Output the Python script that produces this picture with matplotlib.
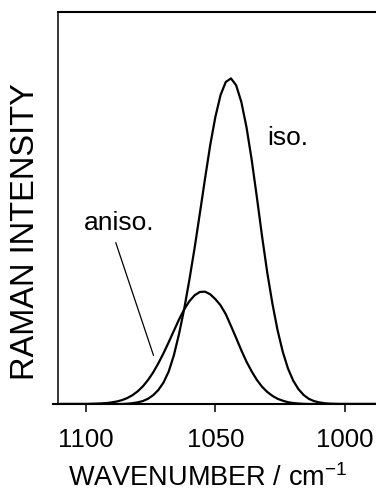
import matplotlib
matplotlib.use("Agg")
import matplotlib.pyplot as plt
import numpy as np

# ---- data (wavenumber in cm-1, intensity in arb. units) ----
wavenumber = [1110, 1108, 1106, 1104, 1102, 1100, 1098, 1096, 1094, 1092, 1090,
              1088, 1086, 1084, 1082, 1080, 1078, 1076, 1074, 1072, 1070,
              1068, 1066, 1064, 1062, 1060, 1058, 1056, 1054, 1052, 1050,
              1048, 1046, 1044, 1042, 1040, 1038, 1036, 1034, 1032, 1030,
              1028, 1026, 1024, 1022, 1020, 1018, 1016, 1014, 1012, 1010,
              1008, 1006, 1004, 1002, 1000, 998, 996, 994, 992, 990, 988]

iso = [0, 0, 0, 0, 0, 0, 0, 0, 0, 0, 0,
       0, 0, 0.1, 0.25, 0.5, 0.9, 1.6, 2.7, 4.3, 6.6,
       10.0, 15.0, 21.6, 29.3, 38.3, 48.0, 58.5, 69.2, 79.5, 88.2,
       94.9, 98.9, 100.0, 97.9, 92.8, 85.0, 75.0, 63.5, 51.5, 40.4,
       30.8, 22.6, 16.0, 10.9, 7.2, 4.6, 2.8, 1.6, 0.9, 0.5,
       0.25, 0.1, 0.05, 0, 0, 0, 0, 0, 0, 0, 0]

aniso = [0, 0, 0, 0, 0, 0, 0.05, 0.1, 0.17, 0.29, 0.48,
         0.77, 1.2, 1.82, 2.7, 3.87, 5.4, 7.35, 9.7, 12.5, 15.6,
         19.0, 22.5, 26.0, 29.1, 31.6, 33.4, 34.4, 34.5, 33.7, 32.2,
         30.3, 27.6, 24.0, 20.3, 16.5, 13.0, 10.0, 7.4, 5.3, 3.7,
         2.5, 1.6, 1.0, 0.55, 0.3, 0.15, 0.05, 0, 0, 0,
         0, 0, 0, 0, 0, 0, 0, 0, 0, 0, 0]

xticks = [1100, 1050, 1000]
xtick_labels = ["1100", "1050", "1000"]

plt.rcParams['font.family'] = ['Liberation Sans', 'DejaVu Sans']
plt.rcParams['mathtext.default'] = 'regular'

fig = plt.figure(figsize=(3.76, 4.91), dpi=100)
ax = fig.add_axes([0.1543, 0.1772, 0.8457, 0.7984])

ax.plot(wavenumber, iso, color='black', lw=1.6, solid_capstyle='round')
ax.plot(wavenumber, aniso, color='black', lw=1.6, solid_capstyle='round')

ax.set_xlim(1110.7, 988.05)
ax.set_ylim(0, 120.4)

ax.spines['right'].set_visible(False)
ax.spines['left'].set_linewidth(1.1)
ax.spines['top'].set_linewidth(1.5)
ax.spines['bottom'].set_linewidth(1.5)
# bottom line extends slightly beyond the left frame
ax.plot([-0.016, 0.0], [0, 0], transform=ax.transAxes, color='black',
        lw=1.5, clip_on=False)

ax.set_yticks([])
ax.set_xticks(xticks)
ax.set_xticklabels(xtick_labels)
ax.tick_params(axis='x', direction='out', length=6, width=1.1,
               labelsize=18.5, pad=11)

# annotations
ax.text(1030.1, 79.5, "iso.", fontsize=19, ha='left', va='baseline')
ax.text(1100.9, 53.4, "aniso.", fontsize=19, ha='left', va='baseline')
ax.plot([1088.4, 1073.9], [49.5, 15.0], color='black', lw=0.9)

fig.text(208 / 376, 5 / 491, "WAVENUMBER / cm$^{-1}$", fontsize=19.5,
         ha='center', va='baseline')
fig.text(26 / 376, 1 - 231.5 / 491, "RAMAN INTENSITY", fontsize=23.5,
         rotation=90, ha='center', va='center')

fig.savefig("out.png", dpi=100)
